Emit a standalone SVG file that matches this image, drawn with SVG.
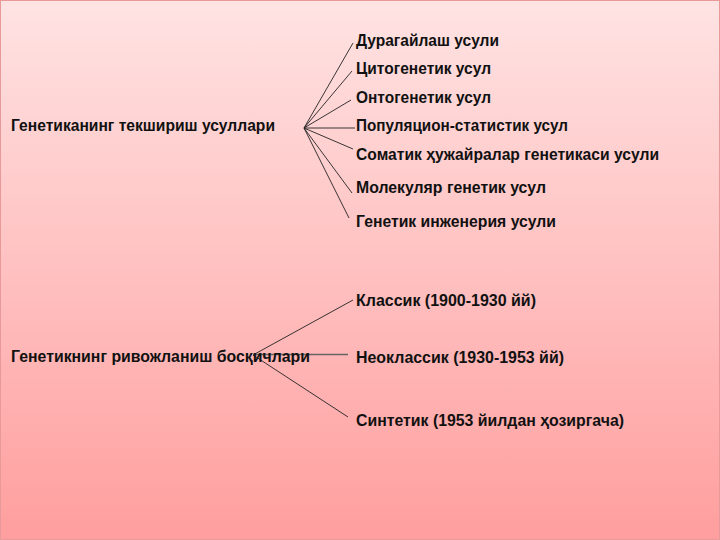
<svg xmlns="http://www.w3.org/2000/svg" width="720" height="540" viewBox="0 0 720 540">
<defs>
<linearGradient id="bg" x1="0" y1="0" x2="0" y2="1">
<stop offset="0" stop-color="#FFE3E3"/>
<stop offset="1" stop-color="#FF9E9E"/>
</linearGradient>
<style>
text{font-family:"Liberation Sans","DejaVu Sans",sans-serif;font-weight:bold;font-size:16.5px;fill:#111}
.c line{stroke:#222;stroke-width:0.9}
</style>
</defs>
<rect x="0.5" y="0.5" width="719" height="539" fill="url(#bg)" stroke="#E89A9A" stroke-width="1"/>
<g id="connectors" class="c">
<line x1="304" y1="128" x2="353" y2="43"/>
<line x1="304" y1="128" x2="352" y2="71"/>
<line x1="304" y1="128" x2="351" y2="100"/>
<line x1="304" y1="128" x2="355" y2="128"/>
<line x1="304" y1="128" x2="353" y2="149"/>
<line x1="304" y1="128" x2="352" y2="193"/>
<line x1="304" y1="128" x2="349" y2="218"/>
<line x1="253" y1="355" x2="353" y2="300"/>
<line x1="253" y1="354.5" x2="348" y2="354.5" style="stroke:#666;stroke-width:1.6"/>
<line x1="253" y1="355" x2="348" y2="417"/>
</g>
<g id="root1"><text x="11" y="131" textLength="264" lengthAdjust="spacingAndGlyphs">Генетиканинг текшириш усуллари</text></g>
<g id="n1"><text x="356" y="46" textLength="143" lengthAdjust="spacingAndGlyphs">Дурагайлаш усули</text></g>
<g id="n2"><text x="356" y="74" textLength="135" lengthAdjust="spacingAndGlyphs">Цитогенетик усул</text></g>
<g id="n3"><text x="356" y="103" textLength="135" lengthAdjust="spacingAndGlyphs">Онтогенетик усул</text></g>
<g id="n4"><text x="356" y="131" textLength="212" lengthAdjust="spacingAndGlyphs">Популяцион-статистик усул</text></g>
<g id="n5"><text x="356" y="160" textLength="303" lengthAdjust="spacingAndGlyphs">Соматик ҳужайралар генетикаси усули</text></g>
<g id="n6"><text x="356" y="193" textLength="190" lengthAdjust="spacingAndGlyphs">Молекуляр генетик усул</text></g>
<g id="n7"><text x="356" y="227" textLength="200" lengthAdjust="spacingAndGlyphs">Генетик инженерия усули</text></g>
<g id="root2"><text x="11" y="362" textLength="299" lengthAdjust="spacingAndGlyphs">Генетикнинг ривожланиш босқичлари</text></g>
<g id="m1"><text x="356" y="306" textLength="180" lengthAdjust="spacingAndGlyphs">Классик (1900-1930 йй)</text></g>
<g id="m2"><text x="356" y="363" textLength="208" lengthAdjust="spacingAndGlyphs">Неоклассик (1930-1953 йй)</text></g>
<g id="m3"><text x="356" y="426" textLength="268" lengthAdjust="spacingAndGlyphs">Синтетик (1953 йилдан ҳозиргача)</text></g>
</svg>
